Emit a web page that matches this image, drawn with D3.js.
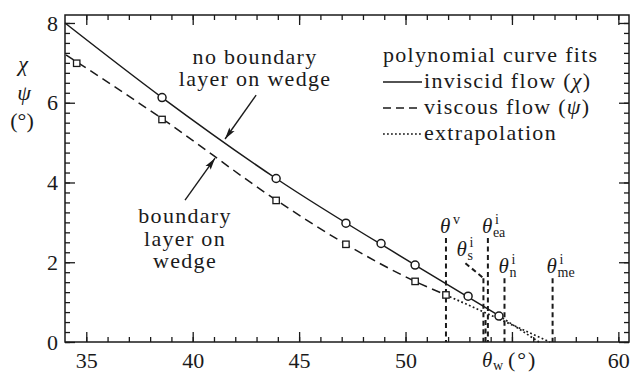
<!DOCTYPE html>
<html>
<head>
<meta charset="utf-8">
<script src="https://cdn.jsdelivr.net/npm/d3@7"></script>
<style>
  html, body { margin: 0; padding: 0; background: #fff; }
  svg { display: block; }
</style>
</head>
<body>
<svg id="chart" width="631" height="375"></svg>
<script>
// Inviscid flow: shock deflection chi (deg) against wedge angle theta_w (deg)
const inviscidTheta = [38.56, 43.92, 47.2, 48.85, 50.45, 52.94, 54.39];
const inviscidChi   = [6.13, 4.1, 2.98, 2.47, 1.93, 1.15, 0.65];

// Viscous flow: deflection psi (deg) against wedge angle theta_w (deg)
const viscousTheta = [34.55, 38.56, 43.92, 47.2, 50.45, 51.9];
const viscousPsi   = [6.99, 5.58, 3.55, 2.45, 1.52, 1.18];

// Polynomial curve fits, sampled along each curve
const chiFitTheta = [34.0, 38.56, 43.92, 50.45, 54.39];
const chiFitValue = [8.0, 6.13, 4.1, 1.93, 0.66];
const chiExtrapTheta = [54.39, 56.27];
const chiExtrapValue = [0.66, 0.0];

const psiFitTheta = [34.05, 38.56, 43.92, 47.2, 50.45, 51.9];
const psiFitValue = [7.2, 5.6, 3.56, 2.45, 1.52, 1.18];
const psiExtrapTheta = [51.9, 56.79];
const psiExtrapValue = [1.18, 0.0];

// Critical wedge angles (deg) and the height (deg) their markers reach
const criticalSup   = ["v", "i", "",  "i",  "i", "i"];
const criticalSub   = ["",  "s", "",  "ea", "n", "me"];
const criticalTheta = [51.9, 53.66, 53.76, 53.87, 54.65, 56.91];
const criticalTop   = [2.61, 1.6, 0.55, 2.61, 1.6, 1.6];

// Axis ticks (55 keeps its tick but leaves room for the axis title)
const xTicks = [35, 40, 45, 50, 55, 60];
const xTickLabels = [35, 40, 45, 50, 60];
const xMinorTicks = d3.range(35, 61, 1);
const yTicks = [0, 2, 4, 6, 8];
const yMinorTicks = d3.range(0, 8.01, 0.25);

const svg = d3.select("#chart");
const plotLeft = 65, plotRight = 629, plotTop = 15, plotBottom = 342;
const ink = "#1a1a1a";
const serif = '"Liberation Serif", "Times New Roman", serif';

const x = d3.scaleLinear().domain([34, 60.5]).range([plotLeft, plotRight]);
const y = d3.scaleLinear().domain([0, 8.2]).range([plotBottom, plotTop]);

// ---- axes: ticks point inward on all four sides ----
function styleAxis(g) {
  g.select(".domain").remove();
  g.selectAll(".tick line").attr("stroke", ink).attr("stroke-width", 1.3);
  g.selectAll(".tick text").style("font-size", "22px");
}
svg.append("g").attr("transform", `translate(0,${plotBottom})`)
  .call(d3.axisBottom(x).tickValues(xMinorTicks).tickSize(-5).tickFormat(""))
  .call(styleAxis);
svg.append("g").attr("transform", `translate(0,${plotBottom})`)
  .call(d3.axisBottom(x).tickValues(xTicks).tickSize(-10).tickPadding(10)
    .tickFormat(d => xTickLabels.includes(d) ? d3.format("d")(d) : ""))
  .call(styleAxis);
svg.append("g").attr("transform", `translate(0,${plotTop})`)
  .call(d3.axisTop(x).tickValues(xMinorTicks).tickSize(-5).tickFormat(""))
  .call(styleAxis);
svg.append("g").attr("transform", `translate(0,${plotTop})`)
  .call(d3.axisTop(x).tickValues(xTicks).tickSize(-10).tickFormat(""))
  .call(styleAxis);
svg.append("g").attr("transform", `translate(${plotLeft},0)`)
  .call(d3.axisLeft(y).tickValues(yMinorTicks).tickSize(-5).tickFormat(""))
  .call(styleAxis);
svg.append("g").attr("transform", `translate(${plotLeft},0)`)
  .call(d3.axisLeft(y).tickValues(yTicks).tickSize(-10).tickPadding(7).tickFormat(d3.format("d")))
  .call(styleAxis);
svg.append("g").attr("transform", `translate(${plotRight},0)`)
  .call(d3.axisRight(y).tickValues(yMinorTicks).tickSize(-5).tickFormat(""))
  .call(styleAxis);
svg.append("g").attr("transform", `translate(${plotRight},0)`)
  .call(d3.axisRight(y).tickValues(yTicks).tickSize(-10).tickFormat(""))
  .call(styleAxis);
svg.selectAll(".tick text").filter(function () { return this.textContent === ""; }).remove();

svg.append("rect")
  .attr("x", plotLeft).attr("y", plotTop)
  .attr("width", plotRight - plotLeft).attr("height", plotBottom - plotTop)
  .attr("fill", "none").attr("stroke", ink).attr("stroke-width", 1.5);

// ---- axis titles ----
const yTitle = svg.append("g").style("font-size", "22px");
yTitle.append("text").attr("x", 23).attr("y", 71).attr("text-anchor", "middle")
  .style("font-style", "italic").text("χ");
yTitle.append("text").attr("x", 24).attr("y", 100).attr("text-anchor", "middle")
  .style("font-style", "italic").text("ψ");
yTitle.append("text").attr("x", 22).attr("y", 128).attr("text-anchor", "middle")
  .text("(°)");

const xTitle = svg.append("text").style("font-size", "21px");
xTitle.append("tspan").attr("x", 482).attr("y", 367).style("font-style", "italic").text("θ");
xTitle.append("tspan").attr("x", 493).attr("y", 370).style("font-size", "14px").text("w");
xTitle.append("tspan").attr("x", 508).attr("y", 367)
  .style("font-size", "22px").style("letter-spacing", "2px").text("(°)");

// ---- fitted curves ----
const line = d3.line().x(d => x(d[0])).y(d => y(d[1])).curve(d3.curveMonotoneX);
const straight = d3.line().x(d => x(d[0])).y(d => y(d[1]));

svg.append("path")
  .datum(d3.zip(chiFitTheta, chiFitValue))
  .attr("d", line).attr("fill", "none")
  .attr("stroke", ink).attr("stroke-width", 1.5);
svg.append("path")
  .datum(d3.zip(psiFitTheta, psiFitValue))
  .attr("d", line).attr("fill", "none")
  .attr("stroke", ink).attr("stroke-width", 1.5)
  .attr("stroke-dasharray", "9,5.5");
svg.append("path")
  .datum(d3.zip(chiExtrapTheta, chiExtrapValue))
  .attr("d", straight).attr("fill", "none")
  .attr("stroke", ink).attr("stroke-width", 1.7)
  .attr("stroke-dasharray", "1.8,2.4");
svg.append("path")
  .datum(d3.zip(psiExtrapTheta, psiExtrapValue))
  .attr("d", straight).attr("fill", "none")
  .attr("stroke", ink).attr("stroke-width", 1.7)
  .attr("stroke-dasharray", "1.8,2.4");

// ---- critical wedge angle markers ----
const critical = d3.range(criticalTheta.length).map(i => ({
  theta: criticalTheta[i], top: criticalTop[i], sup: criticalSup[i], sub: criticalSub[i]
}));
svg.append("g").selectAll("line.crit").data(critical).join("line")
  .attr("class", "crit")
  .attr("x1", d => x(d.theta)).attr("x2", d => x(d.theta))
  .attr("y1", d => y(d.top)).attr("y2", plotBottom)
  .attr("stroke", ink).attr("stroke-width", 2)
  .attr("stroke-dasharray", "5,3.5");

// leader from the theta_s label down to its marker
const sMark = critical[1];
svg.append("line")
  .attr("x1", x(sMark.theta) - 18).attr("y1", y(sMark.top) - 15)
  .attr("x2", x(sMark.theta)).attr("y2", y(sMark.top))
  .attr("stroke", ink).attr("stroke-width", 2)
  .attr("stroke-dasharray", "5,3.5");

// labels: theta with superscript and subscript, kept in one text element
function thetaLabel(px, baseline, sup, sub) {
  const t = svg.append("text").style("font-size", "21px");
  t.append("tspan").attr("x", px).attr("y", baseline)
    .style("font-style", "italic").text("θ");
  if (sup) t.append("tspan").attr("x", px + 13).attr("y", baseline - 9)
    .style("font-size", "14px").text(sup);
  if (sub) t.append("tspan").attr("x", px + 11).attr("y", baseline + 4)
    .style("font-size", "14px").text(sub);
}
critical.forEach((d, i) => {
  if (i === 1) {
    thetaLabel(x(d.theta) - 27, y(d.top) - 22, d.sup, d.sub);
  } else if (d.sup) {
    thetaLabel(x(d.theta) - 6, y(d.top) - 5, d.sup, d.sub);
  }
});

// ---- data markers ----
svg.append("g").selectAll("circle").data(d3.zip(inviscidTheta, inviscidChi)).join("circle")
  .attr("cx", d => x(d[0])).attr("cy", d => y(d[1])).attr("r", 4)
  .attr("fill", "#fff").attr("stroke", ink).attr("stroke-width", 1.5);
svg.append("g").selectAll("rect").data(d3.zip(viscousTheta, viscousPsi)).join("rect")
  .attr("x", d => x(d[0]) - 3.2).attr("y", d => y(d[1]) - 3.2)
  .attr("width", 6.4).attr("height", 6.4)
  .attr("fill", "#fff").attr("stroke", ink).attr("stroke-width", 1.3);

// ---- annotations ----
svg.append("defs").append("marker")
  .attr("id", "arrow").attr("viewBox", "0 -4 12 8")
  .attr("refX", 12).attr("refY", 0)
  .attr("markerWidth", 12).attr("markerHeight", 8)
  .attr("markerUnits", "userSpaceOnUse").attr("orient", "auto")
  .append("path").attr("d", "M0,-3.2L12,0L0,3.2L2.5,0Z").attr("fill", ink);

function note(cx, baselines, lines) {
  const t = svg.append("text").style("font-size", "22px").style("letter-spacing", "1.3px")
    .attr("text-anchor", "middle");
  lines.forEach((s, i) => t.append("tspan").attr("x", cx).attr("y", baselines[i]).text(s));
}
note(x(42.93), [y(6.98), y(6.43)], ["no boundary", "layer on wedge"]);
svg.append("line")
  .attr("x1", x(42.98)).attr("y1", y(6.19)).attr("x2", x(41.52)).attr("y2", y(5.09))
  .attr("stroke", ink).attr("stroke-width", 1.4).attr("marker-end", "url(#arrow)");

note(x(39.64), [y(2.98), y(2.41), y(1.86)], ["boundary", "layer on", "wedge"]);
svg.append("line")
  .attr("x1", x(39.64)).attr("y1", y(3.56)).attr("x2", x(41.05)).attr("y2", y(4.61))
  .attr("stroke", ink).attr("stroke-width", 1.4).attr("marker-end", "url(#arrow)");

// ---- legend ----
const legend = svg.append("g").style("font-size", "22px");
legend.append("text").attr("x", 383).attr("y", 62).style("letter-spacing", "1.3px")
  .text("polynomial curve fits");
const legendRows = [
  { dash: null, width: 1.5, label: ["inviscid flow (", "χ", ")"] },
  { dash: "8,5", width: 1.6, label: ["viscous flow (", "ψ", ")"] },
  { dash: "1.8,2.2", width: 1.7, label: ["extrapolation"] }
];
legendRows.forEach((r, i) => {
  const base = 88 + i * 26;
  legend.append("line").attr("x1", 383).attr("x2", 422)
    .attr("y1", base - 6).attr("y2", base - 6)
    .attr("stroke", ink).attr("stroke-width", r.width)
    .attr("stroke-dasharray", r.dash);
  const t = legend.append("text").attr("x", 424).attr("y", base).style("letter-spacing", "1.3px");
  r.label.forEach((s, j) => {
    const sp = t.append("tspan").text(s);
    if (j === 1) sp.style("font-style", "italic");
  });
});

// one serif face and ink colour for every label
svg.selectAll("text").style("font-family", serif).style("fill", ink);
</script>
</body>
</html>
